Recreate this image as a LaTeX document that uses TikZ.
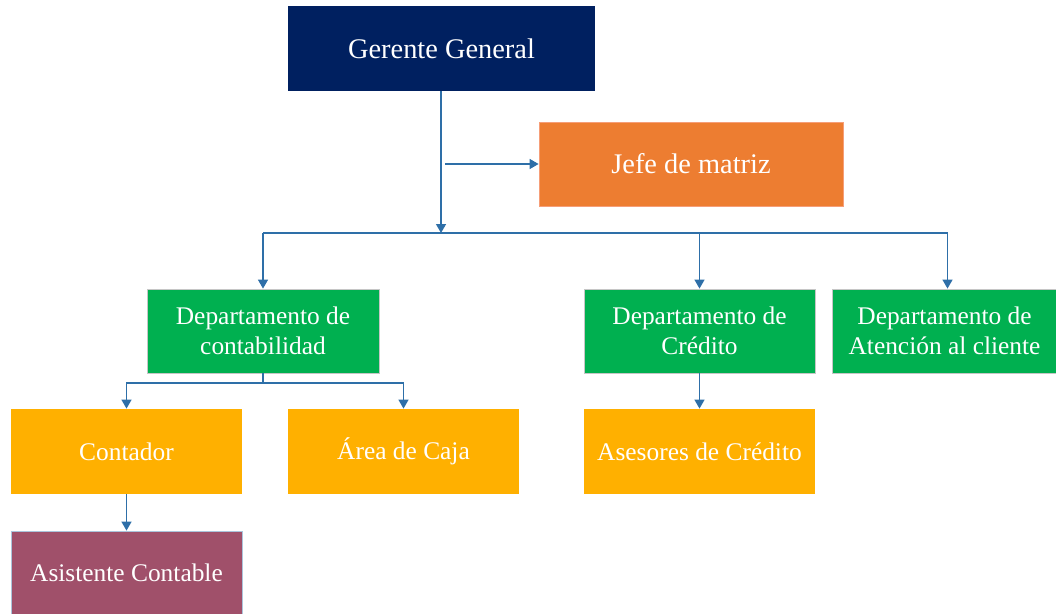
\documentclass[tikz,border=0pt]{standalone}
\usepackage{fontspec}
\setmainfont{Liberation Serif}
\usetikzlibrary{arrows.meta}
\definecolor{cnavy}{HTML}{002060}
\definecolor{corange}{HTML}{ED7D31}
\definecolor{cgreen}{HTML}{00B050}
\definecolor{camber}{HTML}{FFB000}
\definecolor{cmauve}{HTML}{A0506A}
\definecolor{cline}{HTML}{2E6FA8}
\begin{document}
\begin{tikzpicture}[x=1pt,y=-1pt,
  box/.style={text=white, align=center, inner sep=0pt, line width=0.8pt},
  big/.style={box, font=\fontsize{28.4}{33}\selectfont},
  small/.style={box, font=\fontsize{25.4}{30}\selectfont},
  conn/.style={draw=cline, line width=1.4pt},
  arr/.style={conn, -{Triangle[length=9pt,width=10pt]}}]
\useasboundingbox (0,0) rectangle (1056,613);
\clip (0,0) rectangle (1056,613);
% boxes
\node[big, fill=cnavy, minimum width=307pt, minimum height=85pt] (ger) at (441.5,48.5) {Gerente General};
\node[big, fill=corange, draw=corange!50!pink, minimum width=304pt, minimum height=84pt] (jefe) at (691,164) {Jefe de matriz};
\node[small, fill=cgreen, draw=gray!45, minimum width=232pt, minimum height=84pt] (dep1) at (263,331) {Departamento de\\contabilidad};
\node[small, fill=cgreen, draw=gray!45, minimum width=231pt, minimum height=84pt] (dep2) at (699.5,331) {Departamento de\\Crédito};
\node[small, fill=cgreen, draw=gray!45, minimum width=224pt, minimum height=84pt] (dep3) at (944.5,331) {Departamento de\\Atención al cliente};
\node[small, fill=camber, minimum width=231pt, minimum height=85pt] (conta) at (126.5,451.5) {Contador};
\node[small, fill=camber, minimum width=231pt, minimum height=85pt] (area) at (403.5,451.5) {Área de Caja};
\node[small, fill=camber, minimum width=231pt, minimum height=85pt] (ases) at (699.5,451.5) {Asesores de Crédito};
\node[small, fill=cmauve, draw=cline!40, minimum width=231pt, minimum height=84pt] (asis) at (126.5,573) {Asistente Contable};
% connectors
\coordinate (j) at (441,233);
\coordinate (k) at (445,164);
\coordinate (m) at (263,383);
\draw[arr] (ger.south -| j) -- (j);
\draw[arr] (k) -- (jefe.west);
\draw[conn] (dep1.north |- j) -- ([xshift=3pt]dep3.north |- j);
\draw[arr] (dep1.north |- j) -- (dep1.north);
\draw[arr] (dep2.north |- j) -- (dep2.north);
\draw[arr] ([xshift=3pt]dep3.north |- j) -- ([xshift=3pt]dep3.north);
\draw[conn] (dep1.south) -- (m);
\draw[arr] (m) -| (conta.north);
\draw[arr] (m) -| (area.north);
\draw[arr] (dep2.south) -- (ases.north);
\draw[arr] (conta.south) -- (asis.north);
\end{tikzpicture}
\end{document}
